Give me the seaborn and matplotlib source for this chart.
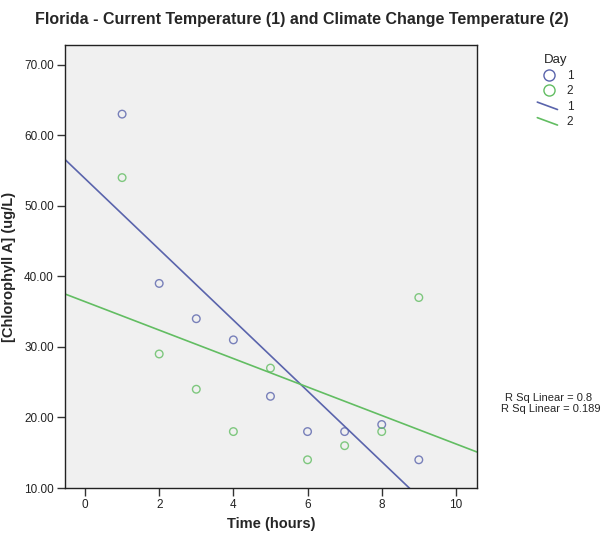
import matplotlib
matplotlib.use("Agg")
import matplotlib.pyplot as plt
import seaborn as sns
import pandas as pd
from matplotlib.lines import Line2D
from matplotlib.legend_handler import HandlerLine2D

# Chlorophyll A readings per hour for each day
time_hours = [1, 2, 3, 4, 5, 6, 7, 8, 9]
day1_chl = [63, 39, 34, 31, 23, 18, 18, 19, 14]
day2_chl = [54, 29, 24, 18, 27, 14, 16, 18, 37]
days = ["1", "2"]
r_sq_labels = ["R Sq Linear = 0.8", "R Sq Linear = 0.189"]
y_ticks = [10, 20, 30, 40, 50, 60, 70]
x_ticks = [0, 2, 4, 6, 8, 10]

df = pd.DataFrame({
    "Time": time_hours * 2,
    "Chl": day1_chl + day2_chl,
    "Day": ["1"] * len(day1_chl) + ["2"] * len(day2_chl),
})

sns.set_theme(style="white")
plt.rcParams["font.family"] = ["Liberation Sans", "DejaVu Sans"]

colors = {"1": "#5a64ac", "2": "#62bd62"}

fig = plt.figure(figsize=(6.04, 5.33), dpi=100)
ax = fig.add_axes([0.1076, 0.0844, 0.6822, 0.8312])
ax.set_facecolor("#f0f0f0")
ax.set_xlim(-0.54, 10.57)
ax.set_ylim(10, 72.8)

for d in days:
    sub = df[df["Day"] == d]
    sns.regplot(data=sub, x="Time", y="Chl", ax=ax, ci=None, truncate=False,
                scatter_kws=dict(facecolors="none", edgecolors=colors[d], s=30, linewidths=1.0),
                line_kws=dict(color=colors[d], lw=1.2))

ax.set_xticks(x_ticks)
ax.set_yticks(y_ticks)
ax.set_yticklabels([f"{v:.2f}" for v in y_ticks])
ax.tick_params(axis="both", direction="out", length=6, width=1, colors="#333333",
               labelsize=8.5, labelcolor="#222222", bottom=True, left=True, pad=2)
for s in ax.spines.values():
    s.set_color("#222222")
    s.set_linewidth(1.0)

ax.set_xlabel("Time (hours)", fontsize=10.5, fontweight="bold", labelpad=4)
ax.set_ylabel("[Chlorophyll A] (ug/L)", fontsize=10.5, fontweight="bold", labelpad=6)
fig.text(0.5, 0.963, "Florida - Current Temperature (1) and Climate Change Temperature (2)",
         ha="center", va="center", fontsize=11.5, fontweight="bold")


class DiagonalHandler(HandlerLine2D):
    def create_artists(self, legend, orig_handle, xdescent, ydescent, width, height, fontsize, trans):
        line = Line2D([xdescent + width * 0.0, xdescent + width * 0.9],
                      [ydescent + height * 0.95, ydescent + height * 0.05],
                      color=orig_handle.get_color(), lw=1.2)
        line.set_transform(trans)
        return [line]


handles = []
for d in days:
    handles.append(Line2D([], [], marker="o", ls="none", markerfacecolor="none",
                          markeredgecolor=colors[d], markersize=8, label=d))
line_handles = [Line2D([], [], color=colors[d], lw=1.2, label=d) for d in days]
leg = fig.legend(handles + line_handles, days + days, title="Day",
                 loc="upper left", bbox_to_anchor=(0.872, 0.918), frameon=False,
                 fontsize=8.5, title_fontsize=9.5, handlelength=1.9, handletextpad=0.6,
                 labelspacing=0.3,
                 handler_map={h: DiagonalHandler() for h in line_handles})

fig.text(0.908, 0.253, r_sq_labels[0], ha="center", va="center", fontsize=8)
fig.text(0.995, 0.233, r_sq_labels[1], ha="right", va="center", fontsize=8)

fig.savefig("out.png", dpi=100)
